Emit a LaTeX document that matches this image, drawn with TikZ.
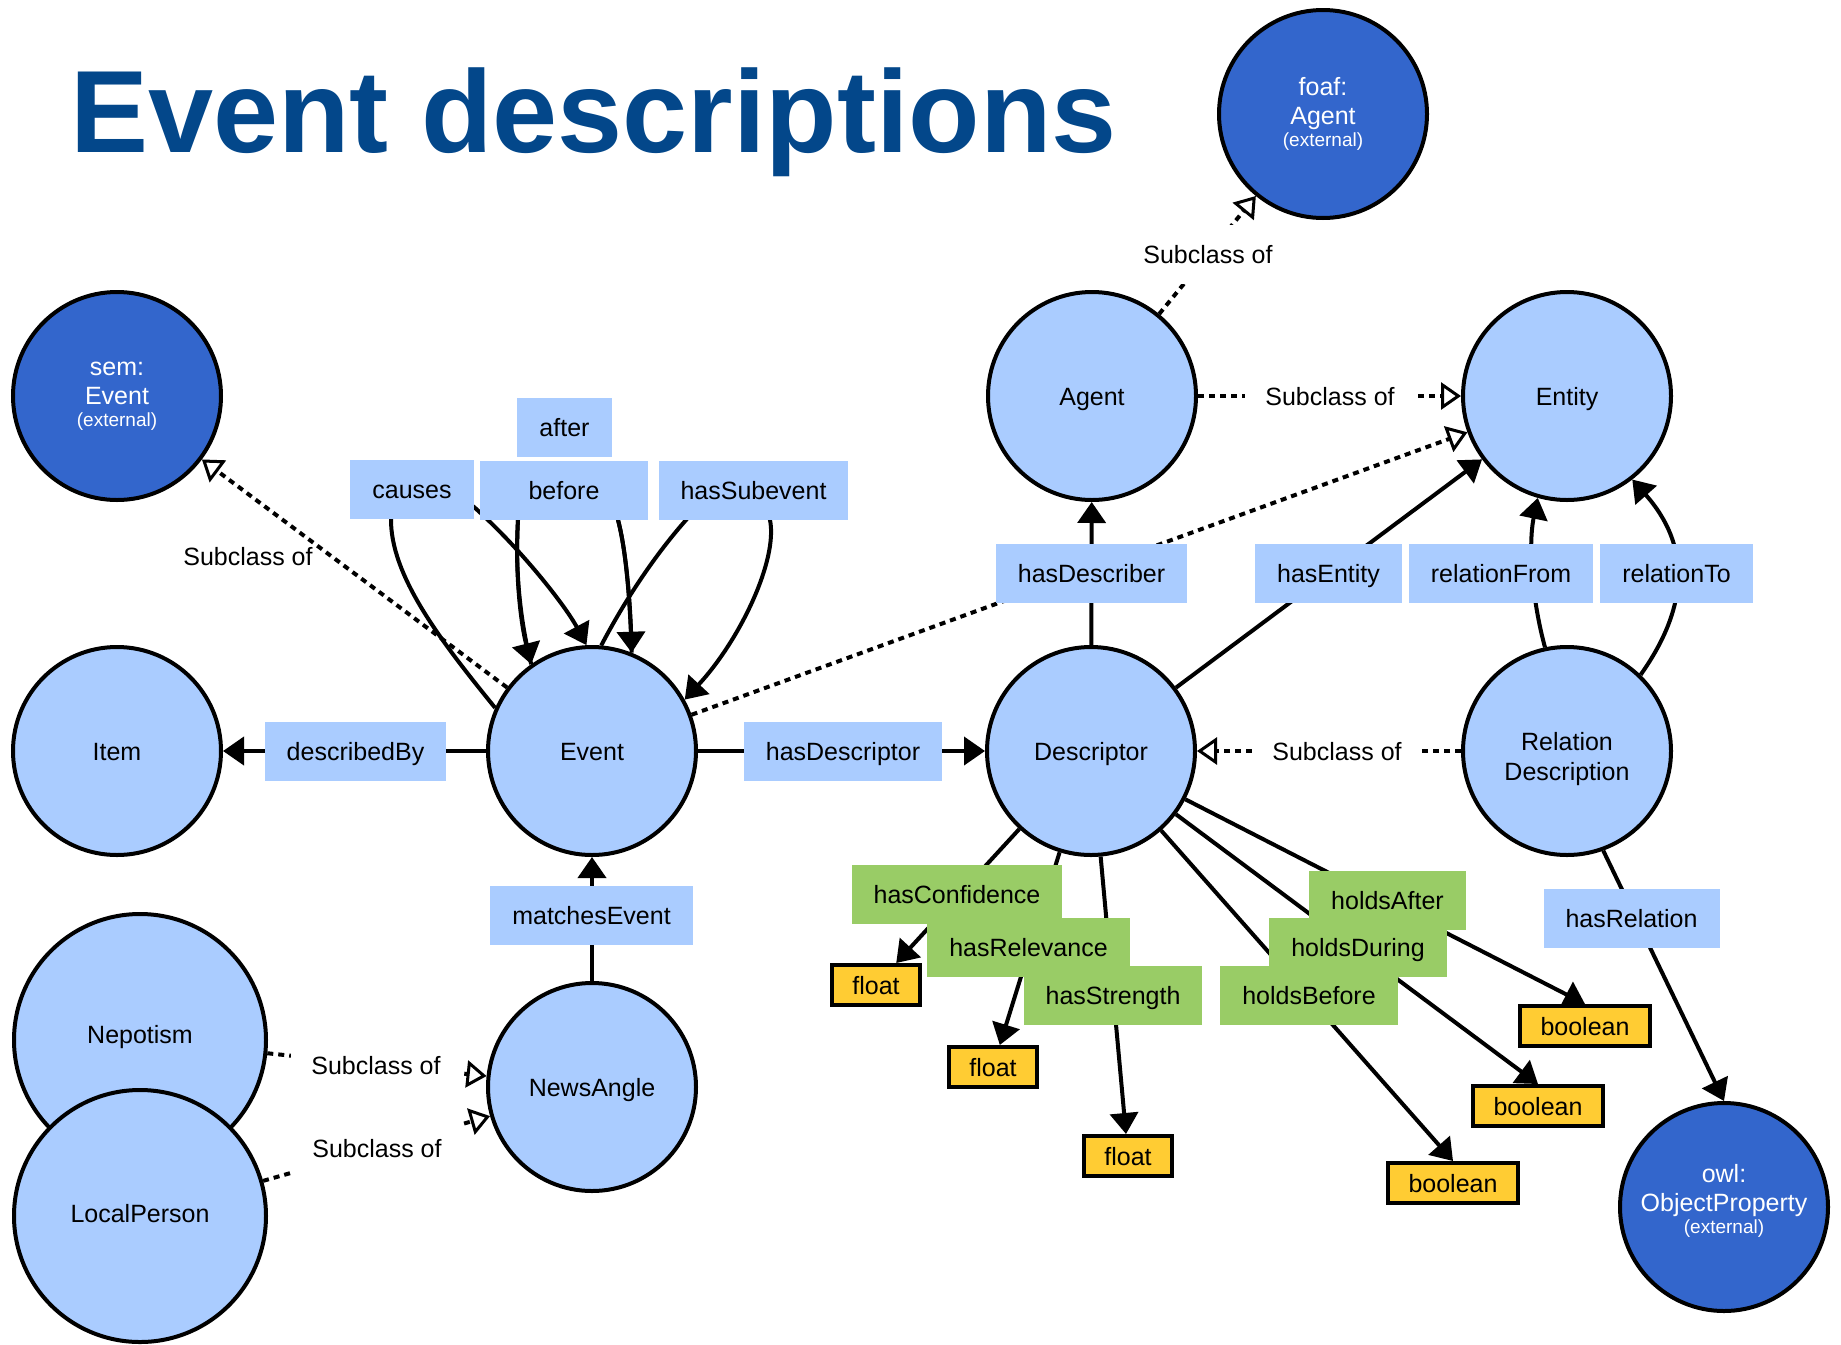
\documentclass[tikz,border=0pt]{standalone}
\usepackage{fontspec}
\setmainfont{Liberation Sans}
\usetikzlibrary{arrows.meta}
\definecolor{lblue}{RGB}{170,204,255}
\definecolor{dblue}{RGB}{51,102,204}
\definecolor{lgreen}{RGB}{153,204,102}
\definecolor{lyellow}{RGB}{255,204,51}
\definecolor{tblue}{RGB}{3,71,138}
\pgfdeclarelayer{bg}
\pgfsetlayers{bg,main}
\begin{document}
\begin{tikzpicture}[x=1pt,y=-1pt,
  every node/.style={font=\fontsize{25}{29}\selectfont, inner sep=0pt},
  cls/.style={circle, draw, line width=4pt, fill=lblue, minimum size=208pt, align=center},
  one/.style={text height=18pt, text depth=0pt},
  ext/.style={cls, fill=dblue, text=white},
  big/.style={cls, one, minimum size=252pt},
  prop/.style={fill=lblue, inner xsep=22pt, minimum height=59pt, text height=18pt, text depth=0pt},
  dprop/.style={prop, fill=lgreen},
  dtype/.style={fill=lyellow, draw, line width=4pt, inner xsep=20.5pt, minimum height=40pt, text height=18pt, text depth=0pt},
  sublbl/.style={fill=white, inner xsep=20pt, minimum height=59pt, text height=18pt, text depth=0pt},
  rel/.style={line width=4pt, -{Triangle[length=21pt,width=28pt]}},
  sub/.style={line width=4pt, dash pattern=on 6pt off 5pt, -{Triangle[open,length=20pt,width=27pt,line width=3pt,fill=white]}}
]
\useasboundingbox (0,0) rectangle (1841,1344);

% title
\node[anchor=base west, font=\fontsize{117}{117}\selectfont\bfseries, text=tblue] (title) at (70,152) {Event descriptions};

% classes
\node[ext] (foaf) at (1323,114) {foaf:\\Agent\\[-7pt]{\fontsize{19}{21}\selectfont(external)}};
\node[ext] (semev) at (117,396) {sem:\\Event\\[-7pt]{\fontsize{19}{21}\selectfont(external)}};
\node[cls,one] (agent) at (1092,396) {Agent};
\node[cls,one] (entity) at (1567,396) {Entity};
\node[cls,one] (item) at (117,751) {Item};
\node[cls,one] (event) at (592,751) {Event};
\node[cls,one] (desc) at (1091,751) {Descriptor};
\node[cls, font=\fontsize{25}{30}\selectfont, text height=58pt, text depth=0pt] (reldesc) at (1567,751) {Relation\\Description};
\node[cls,one] (news) at (592,1087) {NewsAngle};
\node[ext] (owl) at (1724,1207) {owl:\\ObjectProperty\\[-7pt]{\fontsize{19}{21}\selectfont(external)}\\[-12pt]};
\node[big, text depth=12pt] (nepo) at (140,1040) {Nepotism};
\node[big, text depth=6pt] (local) at (140,1216) {LocalPerson};

% datatypes
\node[dtype] (f1) at (876,985) {float};
\node[dtype] (f2) at (993,1067) {float};
\node[dtype] (f3) at (1128,1156) {float};
\node[dtype] (b1) at (1585,1026) {boolean};
\node[dtype] (b2) at (1538,1106) {boolean};
\node[dtype] (b3) at (1453,1183) {boolean};

% connectors
\begin{pgfonlayer}{bg}
\draw[rel] (event) -- (item);
\draw[rel] (event) -- (desc);
\draw[rel] (news) -- (event);
\draw[sub] (event) -- (semev);
\draw[sub] (event) -- (entity);
\draw[rel] (desc) -- (agent);
\draw[rel] (desc) -- (entity);
\draw[rel] (reldesc.102) .. controls (1532,600) and (1528,545) .. (entity.-106);
\draw[rel] (reldesc.46) .. controls (1690,605) and (1690,545) .. (entity.-52);
\draw[sub] (reldesc) -- (desc);
\draw[rel] (reldesc.-70) -- (owl.north);
\draw[sub] (agent) -- (foaf);
\draw[sub] (agent) -- (entity);
\draw[sub] (nepo) -- (news);
\draw[sub] (local) -- (news);
\draw[rel] (desc) -- (f1);
\draw[rel] (desc) -- (f2);
\draw[rel] (desc) -- (f3);
\draw[rel] (desc) -- (b3.north);
\draw[rel] (desc) -- (b2.north);
\draw[rel] (desc) -- (b1.north);
% self loops on Event
\draw[rel] (event.156) .. controls (440,640) and (390,575) .. (391,518)
  .. controls (390,490) and (440,482) .. (474,507)
  .. controls (520,548) and (565,605) .. (event.93);
\draw[rel] (event.68) .. controls (630,600) and (626,550) .. (618,520)
  .. controls (612,485) and (590,478) .. (565,478)
  .. controls (540,478) and (519,490) .. (518,520)
  .. controls (515,570) and (520,620) .. (event.125);
\draw[rel] (event.125) .. controls (520,620) and (515,570) .. (518,520)
  .. controls (519,490) and (540,478) .. (565,478)
  .. controls (590,478) and (612,485) .. (618,520)
  .. controls (626,550) and (630,600) .. (event.68);
\draw[rel] (event.85) .. controls (625,600) and (655,555) .. (686,520)
  .. controls (710,490) and (760,480) .. (770,520)
  .. controls (778,560) and (740,640) .. (event.29);
\end{pgfonlayer}

% object property labels
\node[prop] (l-after) at (564.5,427) {after};
\node[prop] (l-causes) at (412,489) {causes};
\node[prop, minimum width=168pt] (l-before) at (564,490.5) {before};
\node[prop] (l-sub) at (753.5,490.5) {hasSubevent};
\node[prop] (l-describer) at (1091.5,573.5) {hasDescriber};
\node[prop] (l-entity) at (1328.5,573.5) {hasEntity};
\node[prop] (l-from) at (1501,573.5) {relationFrom};
\node[prop] (l-to) at (1676.5,573.5) {relationTo};
\node[prop] (l-describedby) at (355.5,751.5) {describedBy};
\node[prop] (l-descriptor) at (843,751.5) {hasDescriptor};
\node[prop] (l-matches) at (591.5,915.5) {matchesEvent};
\node[prop] (l-relation) at (1631.5,918.5) {hasRelation};

% datatype property labels
\node[dprop] (l-conf) at (957,894.5) {hasConfidence};
\node[dprop] (l-relev) at (1028.5,947.5) {hasRelevance};
\node[dprop] (l-str) at (1113,995.5) {hasStrength};
\node[dprop] (l-hafter) at (1387.5,900.5) {holdsAfter};
\node[dprop] (l-hduring) at (1358,947.5) {holdsDuring};
\node[dprop] (l-hbefore) at (1309,995.5) {holdsBefore};

% subclass labels
\node[sublbl] (s-foaf) at (1208,254) {Subclass of};
\node[sublbl] (s-entity) at (1330,396) {Subclass of};
\node[sublbl] (s-desc) at (1337,751) {Subclass of};
\node[sublbl] (s-nepo) at (376,1065) {Subclass of};
\node[sublbl] (s-local) at (377,1148) {Subclass of};
\node[one] (s-sem) at (248,556) {Subclass of};
\end{tikzpicture}
\end{document}
